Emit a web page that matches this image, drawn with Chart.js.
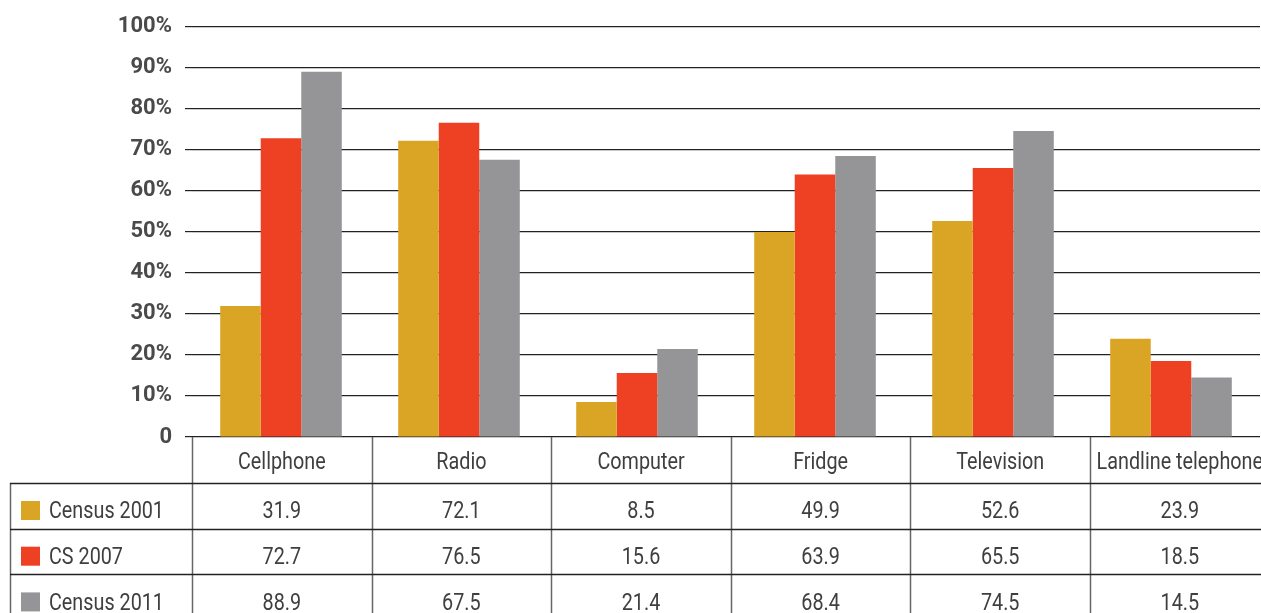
<!DOCTYPE html>
<html>
<head>
<meta charset="utf-8">
<script src="https://cdn.jsdelivr.net/npm/chart.js@4.4.1/dist/chart.umd.min.js"></script>
<style>
  html, body { margin: 0; padding: 0; background: #fff; }
  #wrap { width: 1261px; height: 613px; position: relative; }
</style>
</head>
<body>
<div id="wrap"><canvas id="c" width="1261" height="613"></canvas></div>
<script>
const categories = ['Cellphone', 'Radio', 'Computer', 'Fridge', 'Television', 'Landline telephone'];
const seriesNames = ['Census 2001', 'CS 2007', 'Census 2011'];
const census2001 = [31.9, 72.1, 8.5, 49.9, 52.6, 23.9];
const cs2007 = [72.7, 76.5, 15.6, 63.9, 65.5, 18.5];
const census2011 = [88.9, 67.5, 21.4, 68.4, 74.5, 14.5];
const tableValues = [
  ['31.9', '72.1', '8.5', '49.9', '52.6', '23.9'],
  ['72.7', '76.5', '15.6', '63.9', '65.5', '18.5'],
  ['88.9', '67.5', '21.4', '68.4', '74.5', '14.5']
];
const colors = ['#DAA425', '#EE4124', '#959598'];

const FONT = 'Roboto, "Liberation Sans", sans-serif';
const TEXT = '#3f3f3f';
const SX = 0.86;

function drawText(ctx, str, x, y, align) {
  ctx.save();
  ctx.translate(x, y);
  ctx.scale(SX, 1);
  ctx.textAlign = align;
  ctx.fillText(str, 0, 0);
  ctx.restore();
}

const tablePlugin = {
  id: 'dataTable',
  afterDraw(chart) {
    const ctx = chart.ctx;
    const area = chart.chartArea;
    const left = area.left;
    const colW = 179.6;
    const axisY = area.bottom;
    const headerBottom = axisY + 46;
    const rowH = 45.7;
    const H = chart.height, W = chart.width;
    ctx.save();
    ctx.strokeStyle = '#666';
    ctx.lineWidth = 1.5;
    for (let i = 0; i < categories.length; i++) {
      const x = Math.round(left + i * colW) + 0.5;
      ctx.beginPath(); ctx.moveTo(x, axisY); ctx.lineTo(x, H); ctx.stroke();
    }
    ctx.beginPath(); ctx.moveTo(10.5, headerBottom); ctx.lineTo(10.5, H); ctx.stroke();
    ctx.strokeStyle = '#222';
    ctx.lineWidth = 1.3;
    for (let r = 0; r < 3; r++) {
      const y = Math.round(headerBottom + r * rowH) + 0.5;
      ctx.beginPath(); ctx.moveTo(10, y); ctx.lineTo(W, y); ctx.stroke();
    }
    ctx.fillStyle = TEXT;
    ctx.font = '23px ' + FONT;
    ctx.textBaseline = 'alphabetic';
    categories.forEach((c, i) => {
      drawText(ctx, c, left + i * colW + colW / 2, axisY + 32.3, 'center');
    });
    for (let r = 0; r < 3; r++) {
      const top = headerBottom + r * rowH;
      const base = top + 35.3;
      ctx.fillStyle = colors[r];
      ctx.fillRect(21, top + 18, 19, 19);
      ctx.fillStyle = TEXT;
      drawText(ctx, seriesNames[r], 49, base, 'left');
      tableValues[r].forEach((v, i) => {
        drawText(ctx, v, left + i * colW + colW / 2, base, 'center');
      });
    }
    ctx.restore();
  }
};

new Chart(document.getElementById('c'), {
  type: 'bar',
  data: {
    labels: categories,
    datasets: [
      { label: seriesNames[0], data: census2001, backgroundColor: colors[0] },
      { label: seriesNames[1], data: cs2007, backgroundColor: colors[1] },
      { label: seriesNames[2], data: census2011, backgroundColor: colors[2] }
    ]
  },
  options: {
    responsive: false,
    animation: false,
    devicePixelRatio: 1,
    layout: { padding: { top: 24, right: 1, bottom: 176, left: 0 } },
    datasets: { bar: { categoryPercentage: 0.683, barPercentage: 1.0, borderWidth: 0 } },
    plugins: { legend: { display: false }, tooltip: { enabled: false } },
    scales: {
      x: { display: false, grid: { display: false } },
      y: {
        min: 0, max: 100,
        border: { display: false },
        grid: { color: '#222', lineWidth: 1.2, drawTicks: true, tickLength: 7 },
        ticks: {
          stepSize: 10,
          padding: 13,
          color: '#4a4a4a',
          font: { family: FONT, size: 22, weight: 'bold' },
          callback: v => v === 0 ? '0' : v + '%'
        },
        afterFit(scale) { scale.width = 192; }
      }
    }
  },
  plugins: [tablePlugin]
});
</script>
</body>
</html>
